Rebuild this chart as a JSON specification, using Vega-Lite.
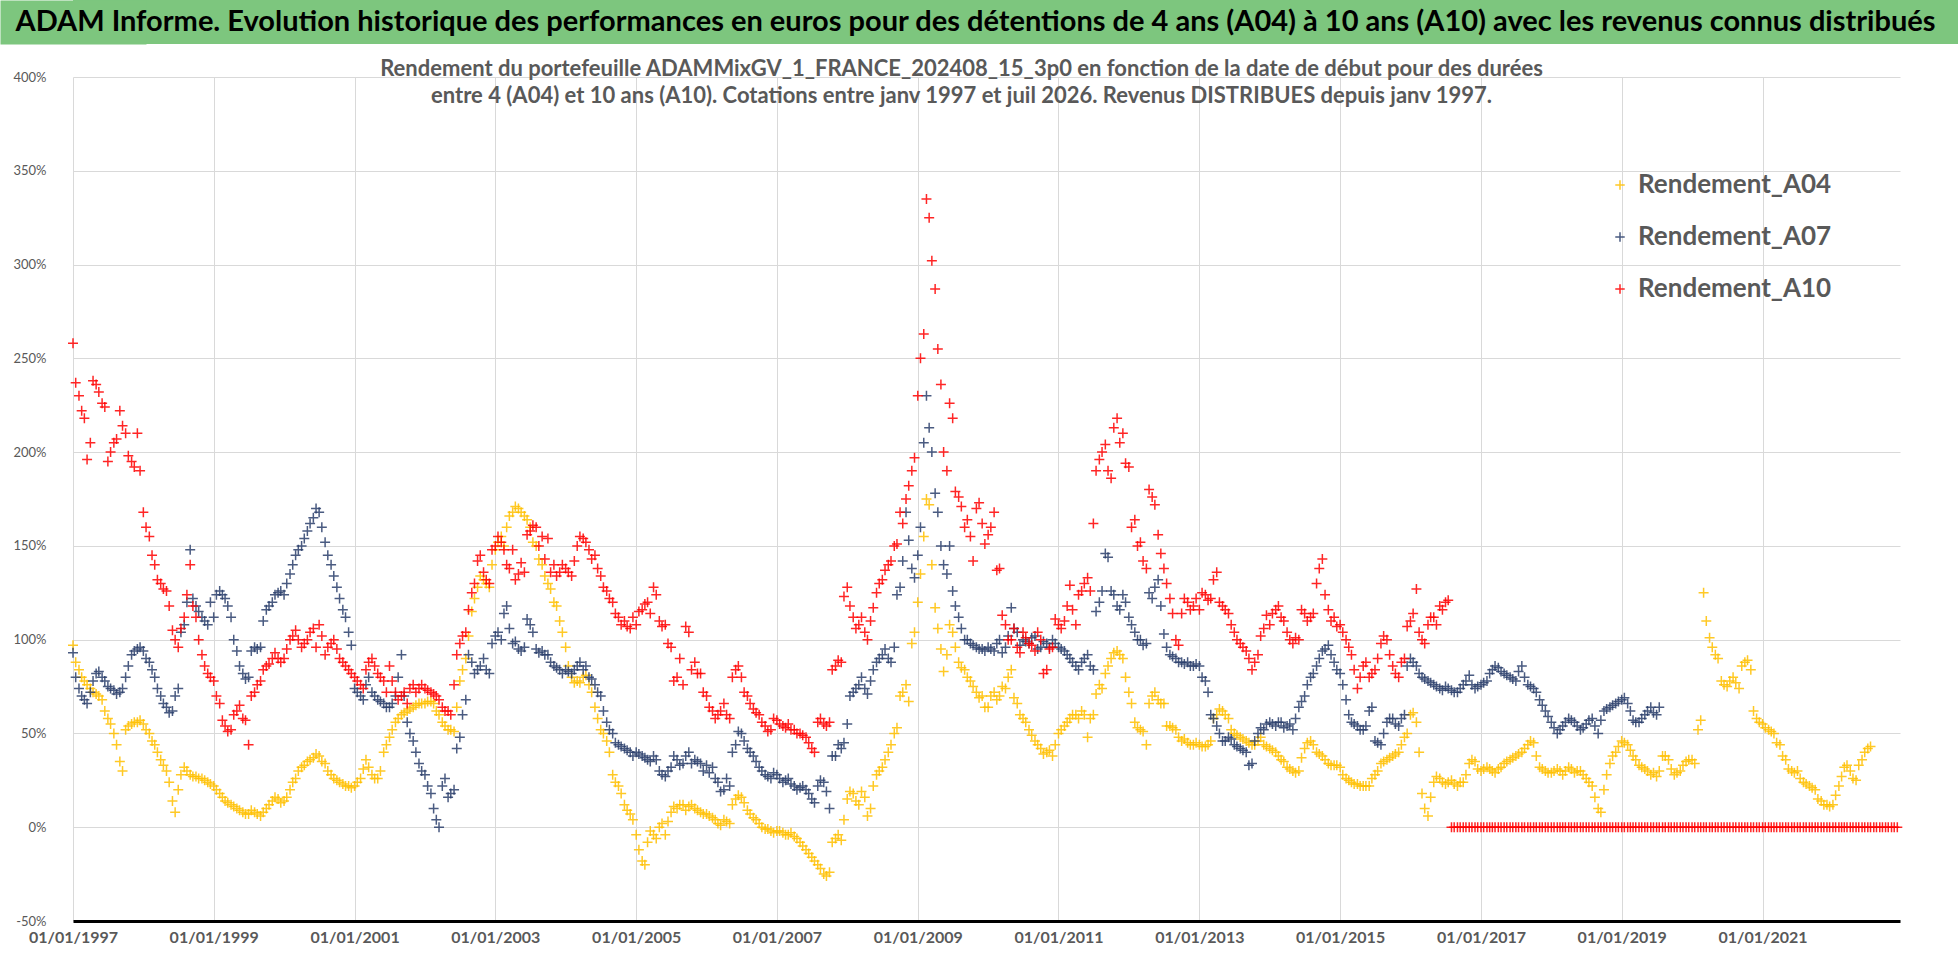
{
  "$schema": "https://vega.github.io/schema/vega-lite/v6.json",
  "padding": 0,
  "background": "white",
  "spacing": 14,
  "config": {"font": "Lato", "view": {"stroke": null}},
  "vconcat": [
    {
      "width": 1885,
      "height": 44,
      "view": {"fill": "#7DC67E", "stroke": null},
      "data": {"values": [{"t": "ADAM Informe. Evolution historique des performances en euros pour des détentions de 4 ans (A04) à 10 ans (A10) avec les revenus connus distribués", "p": 0.5}]},
      "mark": {"type": "text", "font": "Lato", "fontSize": 29, "fontWeight": "bold", "color": "#000000", "dx": -40},
      "encoding": {
        "text": {"field": "t"},
        "y": {
          "field": "p", "type": "quantitative", "scale": {"domain": [0, 1]},
          "axis": {"title": null, "labels": false, "ticks": false, "grid": false, "domain": true, "domainColor": "#7DC67E", "domainWidth": 146, "domainCap": "butt", "minExtent": 73, "maxExtent": 73, "zindex": 0}
        }
      }
    },
    {
      "width": 1827,
      "height": 844,
      "title": {
        "text": ["Rendement du portefeuille ADAMMixGV_1_FRANCE_202408_15_3p0  en fonction de la date de début pour des durées", "entre 4 (A04) et 10 ans (A10). Cotations entre janv 1997 et juil 2026. Revenus DISTRIBUES depuis janv 1997."],
        "font": "Lato", "fontSize": 22, "fontWeight": "bold", "color": "#595959",
        "lineHeight": 27, "offset": -37, "anchor": "middle", "dx": -25
      },
      "data": {"values": [
        {"d":"1997-01","A04":97,"A07":93,"A10":258},
        {"d":"1997-01-15","A04":88,"A07":80,"A10":237},
        {"d":"1997-02","A04":84,"A07":74,"A10":230},
        {"d":"1997-02-15","A04":80,"A07":70,"A10":222},
        {"d":"1997-03","A04":78,"A07":68,"A10":218},
        {"d":"1997-03-15","A04":76,"A07":66,"A10":196},
        {"d":"1997-04","A04":74,"A07":72,"A10":205},
        {"d":"1997-04-15","A04":72,"A07":78,"A10":238},
        {"d":"1997-05","A04":71,"A07":82,"A10":236},
        {"d":"1997-05-15","A04":70,"A07":83,"A10":232},
        {"d":"1997-06","A04":68,"A07":80,"A10":226},
        {"d":"1997-06-15","A04":62,"A07":78,"A10":224},
        {"d":"1997-07","A04":58,"A07":75,"A10":195},
        {"d":"1997-07-15","A04":55,"A07":74,"A10":200},
        {"d":"1997-08","A04":50,"A07":73,"A10":205},
        {"d":"1997-08-15","A04":44,"A07":71,"A10":207},
        {"d":"1997-09","A04":35,"A07":72,"A10":222},
        {"d":"1997-09-15","A04":30,"A07":74,"A10":214},
        {"d":"1997-10","A04":52,"A07":80,"A10":210},
        {"d":"1997-10-15","A04":54,"A07":86,"A10":198},
        {"d":"1997-11","A04":55,"A07":92,"A10":195},
        {"d":"1997-11-15","A04":56,"A07":94,"A10":192},
        {"d":"1997-12","A04":56,"A07":95,"A10":210},
        {"d":"1997-12-15","A04":57,"A07":96,"A10":190},
        {"d":"1998-01","A04":55,"A07":94,"A10":168},
        {"d":"1998-01-15","A04":52,"A07":90,"A10":160},
        {"d":"1998-02","A04":50,"A07":88,"A10":155},
        {"d":"1998-02-15","A04":46,"A07":84,"A10":145},
        {"d":"1998-03","A04":44,"A07":80,"A10":140},
        {"d":"1998-03-15","A04":40,"A07":74,"A10":132},
        {"d":"1998-04","A04":36,"A07":70,"A10":130},
        {"d":"1998-04-15","A04":33,"A07":66,"A10":127},
        {"d":"1998-05","A04":30,"A07":64,"A10":126},
        {"d":"1998-05-15","A04":24,"A07":61,"A10":118},
        {"d":"1998-06","A04":14,"A07":62,"A10":105},
        {"d":"1998-06-15","A04":8,"A07":70,"A10":100},
        {"d":"1998-07","A04":20,"A07":74,"A10":96},
        {"d":"1998-07-15","A04":28,"A07":104,"A10":106},
        {"d":"1998-08","A04":32,"A07":108,"A10":112},
        {"d":"1998-08-15","A04":30,"A07":120,"A10":124},
        {"d":"1998-09","A04":28,"A07":148,"A10":140},
        {"d":"1998-09-15","A04":27,"A07":122,"A10":118},
        {"d":"1998-10","A04":27,"A07":118,"A10":112},
        {"d":"1998-10-15","A04":26,"A07":115,"A10":100},
        {"d":"1998-11","A04":26,"A07":112,"A10":92},
        {"d":"1998-11-15","A04":25,"A07":110,"A10":86},
        {"d":"1998-12","A04":24,"A07":108,"A10":82},
        {"d":"1998-12-15","A04":23,"A07":120,"A10":80},
        {"d":"1999-01","A04":22,"A07":112,"A10":78},
        {"d":"1999-01-15","A04":20,"A07":124,"A10":70},
        {"d":"1999-02","A04":18,"A07":126,"A10":66},
        {"d":"1999-02-15","A04":16,"A07":124,"A10":57},
        {"d":"1999-03","A04":14,"A07":122,"A10":54},
        {"d":"1999-03-15","A04":13,"A07":118,"A10":51},
        {"d":"1999-04","A04":12,"A07":112,"A10":52},
        {"d":"1999-04-15","A04":11,"A07":100,"A10":60},
        {"d":"1999-05","A04":10,"A07":94,"A10":62},
        {"d":"1999-05-15","A04":9,"A07":86,"A10":65},
        {"d":"1999-06","A04":8,"A07":82,"A10":58},
        {"d":"1999-06-15","A04":7,"A07":79,"A10":57},
        {"d":"1999-07","A04":7,"A07":80,"A10":44},
        {"d":"1999-07-15","A04":9,"A07":94,"A10":70},
        {"d":"1999-08","A04":8,"A07":96,"A10":72},
        {"d":"1999-08-15","A04":7,"A07":95,"A10":76},
        {"d":"1999-09","A04":6,"A07":96,"A10":78},
        {"d":"1999-09-15","A04":8,"A07":110,"A10":84},
        {"d":"1999-10","A04":10,"A07":116,"A10":86},
        {"d":"1999-10-15","A04":12,"A07":118,"A10":87},
        {"d":"1999-11","A04":14,"A07":120,"A10":90},
        {"d":"1999-11-15","A04":16,"A07":124,"A10":93},
        {"d":"1999-12","A04":15,"A07":125,"A10":90},
        {"d":"1999-12-15","A04":13,"A07":126,"A10":88},
        {"d":"2000-01","A04":14,"A07":124,"A10":90},
        {"d":"2000-01-15","A04":16,"A07":130,"A10":95},
        {"d":"2000-02","A04":20,"A07":135,"A10":100},
        {"d":"2000-02-15","A04":24,"A07":140,"A10":102},
        {"d":"2000-03","A04":26,"A07":145,"A10":105},
        {"d":"2000-03-15","A04":30,"A07":148,"A10":100},
        {"d":"2000-04","A04":32,"A07":150,"A10":96},
        {"d":"2000-04-15","A04":33,"A07":154,"A10":98},
        {"d":"2000-05","A04":35,"A07":158,"A10":100},
        {"d":"2000-05-15","A04":36,"A07":162,"A10":104},
        {"d":"2000-06","A04":37,"A07":165,"A10":106},
        {"d":"2000-06-15","A04":39,"A07":170,"A10":96},
        {"d":"2000-07","A04":38,"A07":168,"A10":108},
        {"d":"2000-07-15","A04":35,"A07":160,"A10":102},
        {"d":"2000-08","A04":34,"A07":152,"A10":92},
        {"d":"2000-08-15","A04":30,"A07":145,"A10":96},
        {"d":"2000-09","A04":28,"A07":140,"A10":98},
        {"d":"2000-09-15","A04":26,"A07":134,"A10":100},
        {"d":"2000-10","A04":25,"A07":128,"A10":95},
        {"d":"2000-10-15","A04":24,"A07":122,"A10":90},
        {"d":"2000-11","A04":23,"A07":116,"A10":88},
        {"d":"2000-11-15","A04":22,"A07":112,"A10":86},
        {"d":"2000-12","A04":22,"A07":104,"A10":84},
        {"d":"2000-12-15","A04":21,"A07":97,"A10":82},
        {"d":"2001-01","A04":22,"A07":74,"A10":80},
        {"d":"2001-01-15","A04":24,"A07":72,"A10":78},
        {"d":"2001-02","A04":26,"A07":70,"A10":76},
        {"d":"2001-02-15","A04":31,"A07":68,"A10":74},
        {"d":"2001-03","A04":36,"A07":76,"A10":84},
        {"d":"2001-03-15","A04":32,"A07":80,"A10":88},
        {"d":"2001-04","A04":28,"A07":72,"A10":90},
        {"d":"2001-04-15","A04":26,"A07":70,"A10":86},
        {"d":"2001-05","A04":26,"A07":68,"A10":82},
        {"d":"2001-05-15","A04":30,"A07":67,"A10":80},
        {"d":"2001-06","A04":40,"A07":66,"A10":78},
        {"d":"2001-06-15","A04":44,"A07":64,"A10":72},
        {"d":"2001-07","A04":48,"A07":64,"A10":86},
        {"d":"2001-07-15","A04":52,"A07":66,"A10":78},
        {"d":"2001-08","A04":56,"A07":70,"A10":72},
        {"d":"2001-08-15","A04":58,"A07":80,"A10":68},
        {"d":"2001-09","A04":60,"A07":92,"A10":70},
        {"d":"2001-09-15","A04":61,"A07":70,"A10":72},
        {"d":"2001-10","A04":62,"A07":56,"A10":66},
        {"d":"2001-10-15","A04":63,"A07":50,"A10":74},
        {"d":"2001-11","A04":64,"A07":46,"A10":76},
        {"d":"2001-11-15","A04":65,"A07":40,"A10":72},
        {"d":"2001-12","A04":66,"A07":34,"A10":74},
        {"d":"2001-12-15","A04":66,"A07":30,"A10":76},
        {"d":"2002-01","A04":66,"A07":28,"A10":74},
        {"d":"2002-01-15","A04":67,"A07":22,"A10":73},
        {"d":"2002-02","A04":67,"A07":18,"A10":72},
        {"d":"2002-02-15","A04":66,"A07":10,"A10":71},
        {"d":"2002-03","A04":62,"A07":4,"A10":70},
        {"d":"2002-03-15","A04":60,"A07":0,"A10":68},
        {"d":"2002-04","A04":56,"A07":22,"A10":64},
        {"d":"2002-04-15","A04":54,"A07":26,"A10":62},
        {"d":"2002-05","A04":52,"A07":16,"A10":62},
        {"d":"2002-05-15","A04":52,"A07":18,"A10":60},
        {"d":"2002-06","A04":51,"A07":20,"A10":76},
        {"d":"2002-06-15","A04":64,"A07":42,"A10":92},
        {"d":"2002-07","A04":78,"A07":48,"A10":98},
        {"d":"2002-07-15","A04":84,"A07":60,"A10":102},
        {"d":"2002-08","A04":90,"A07":68,"A10":104},
        {"d":"2002-08-15","A04":102,"A07":92,"A10":116},
        {"d":"2002-09","A04":115,"A07":88,"A10":125},
        {"d":"2002-09-15","A04":122,"A07":82,"A10":130},
        {"d":"2002-10","A04":128,"A07":84,"A10":142},
        {"d":"2002-10-15","A04":134,"A07":86,"A10":145},
        {"d":"2002-11","A04":132,"A07":90,"A10":136},
        {"d":"2002-11-15","A04":130,"A07":84,"A10":132},
        {"d":"2002-12","A04":128,"A07":82,"A10":130},
        {"d":"2002-12-15","A04":140,"A07":98,"A10":148},
        {"d":"2003-01","A04":148,"A07":102,"A10":150},
        {"d":"2003-01-15","A04":152,"A07":104,"A10":155},
        {"d":"2003-02","A04":155,"A07":100,"A10":152},
        {"d":"2003-02-15","A04":150,"A07":114,"A10":148},
        {"d":"2003-03","A04":160,"A07":118,"A10":140},
        {"d":"2003-03-15","A04":166,"A07":106,"A10":138},
        {"d":"2003-04","A04":168,"A07":98,"A10":148},
        {"d":"2003-04-15","A04":171,"A07":99,"A10":132},
        {"d":"2003-05","A04":170,"A07":95,"A10":135},
        {"d":"2003-05-15","A04":168,"A07":94,"A10":141},
        {"d":"2003-06","A04":166,"A07":96,"A10":136},
        {"d":"2003-06-15","A04":164,"A07":111,"A10":156},
        {"d":"2003-07","A04":160,"A07":108,"A10":158},
        {"d":"2003-07-15","A04":152,"A07":104,"A10":161},
        {"d":"2003-08","A04":150,"A07":95,"A10":160},
        {"d":"2003-08-15","A04":143,"A07":93,"A10":150},
        {"d":"2003-09","A04":140,"A07":94,"A10":155},
        {"d":"2003-09-15","A04":134,"A07":92,"A10":143},
        {"d":"2003-10","A04":130,"A07":92,"A10":154},
        {"d":"2003-10-15","A04":127,"A07":88,"A10":136},
        {"d":"2003-11","A04":120,"A07":86,"A10":140},
        {"d":"2003-11-15","A04":118,"A07":85,"A10":134},
        {"d":"2003-12","A04":110,"A07":84,"A10":136},
        {"d":"2003-12-15","A04":104,"A07":82,"A10":140},
        {"d":"2004-01","A04":96,"A07":84,"A10":138},
        {"d":"2004-01-15","A04":86,"A07":83,"A10":136},
        {"d":"2004-02","A04":80,"A07":82,"A10":134},
        {"d":"2004-02-15","A04":77,"A07":84,"A10":142},
        {"d":"2004-03","A04":78,"A07":86,"A10":150},
        {"d":"2004-03-15","A04":77,"A07":88,"A10":155},
        {"d":"2004-04","A04":80,"A07":84,"A10":154},
        {"d":"2004-04-15","A04":81,"A07":86,"A10":152},
        {"d":"2004-05","A04":76,"A07":80,"A10":148},
        {"d":"2004-05-15","A04":72,"A07":79,"A10":143},
        {"d":"2004-06","A04":64,"A07":76,"A10":145},
        {"d":"2004-06-15","A04":58,"A07":72,"A10":138},
        {"d":"2004-07","A04":52,"A07":70,"A10":134},
        {"d":"2004-07-15","A04":50,"A07":62,"A10":128},
        {"d":"2004-08","A04":46,"A07":56,"A10":126},
        {"d":"2004-08-15","A04":40,"A07":52,"A10":122},
        {"d":"2004-09","A04":28,"A07":50,"A10":120},
        {"d":"2004-09-15","A04":24,"A07":45,"A10":114},
        {"d":"2004-10","A04":22,"A07":44,"A10":112},
        {"d":"2004-10-15","A04":18,"A07":43,"A10":108},
        {"d":"2004-11","A04":12,"A07":42,"A10":110},
        {"d":"2004-11-15","A04":9,"A07":41,"A10":107},
        {"d":"2004-12","A04":7,"A07":40,"A10":106},
        {"d":"2004-12-15","A04":4,"A07":38,"A10":112},
        {"d":"2005-01","A04":-4,"A07":40,"A10":108},
        {"d":"2005-01-15","A04":-12,"A07":39,"A10":115},
        {"d":"2005-02","A04":-18,"A07":38,"A10":116},
        {"d":"2005-02-15","A04":-20,"A07":37,"A10":119},
        {"d":"2005-03","A04":-8,"A07":36,"A10":120},
        {"d":"2005-03-15","A04":-2,"A07":35,"A10":114},
        {"d":"2005-04","A04":-4,"A07":38,"A10":128},
        {"d":"2005-04-15","A04":-6,"A07":36,"A10":124},
        {"d":"2005-05","A04":0,"A07":30,"A10":110},
        {"d":"2005-05-15","A04":2,"A07":28,"A10":107},
        {"d":"2005-06","A04":-4,"A07":27,"A10":108},
        {"d":"2005-06-15","A04":3,"A07":30,"A10":98},
        {"d":"2005-07","A04":8,"A07":32,"A10":96},
        {"d":"2005-07-15","A04":11,"A07":38,"A10":78},
        {"d":"2005-08","A04":10,"A07":36,"A10":80},
        {"d":"2005-08-15","A04":12,"A07":33,"A10":90},
        {"d":"2005-09","A04":12,"A07":34,"A10":76},
        {"d":"2005-09-15","A04":9,"A07":38,"A10":107},
        {"d":"2005-10","A04":11,"A07":40,"A10":104},
        {"d":"2005-10-15","A04":12,"A07":34,"A10":84},
        {"d":"2005-11","A04":10,"A07":36,"A10":88},
        {"d":"2005-11-15","A04":9,"A07":35,"A10":82},
        {"d":"2005-12","A04":8,"A07":34,"A10":82},
        {"d":"2005-12-15","A04":7,"A07":30,"A10":72},
        {"d":"2006-01","A04":7,"A07":33,"A10":70},
        {"d":"2006-01-15","A04":6,"A07":29,"A10":64},
        {"d":"2006-02","A04":5,"A07":32,"A10":62},
        {"d":"2006-02-15","A04":4,"A07":26,"A10":58},
        {"d":"2006-03","A04":2,"A07":24,"A10":60},
        {"d":"2006-03-15","A04":1,"A07":19,"A10":62},
        {"d":"2006-04","A04":4,"A07":20,"A10":66},
        {"d":"2006-04-15","A04":3,"A07":26,"A10":60},
        {"d":"2006-05","A04":2,"A07":22,"A10":58},
        {"d":"2006-05-15","A04":12,"A07":40,"A10":80},
        {"d":"2006-06","A04":15,"A07":44,"A10":84},
        {"d":"2006-06-15","A04":17,"A07":51,"A10":86},
        {"d":"2006-07","A04":16,"A07":50,"A10":80},
        {"d":"2006-07-15","A04":13,"A07":46,"A10":72},
        {"d":"2006-08","A04":9,"A07":42,"A10":70},
        {"d":"2006-08-15","A04":7,"A07":40,"A10":66},
        {"d":"2006-09","A04":5,"A07":38,"A10":63},
        {"d":"2006-09-15","A04":4,"A07":35,"A10":61},
        {"d":"2006-10","A04":2,"A07":32,"A10":60},
        {"d":"2006-10-15","A04":0,"A07":30,"A10":56},
        {"d":"2006-11","A04":-1,"A07":28,"A10":54},
        {"d":"2006-11-15","A04":-1,"A07":27,"A10":51},
        {"d":"2006-12","A04":-2,"A07":26,"A10":52},
        {"d":"2006-12-15","A04":-3,"A07":29,"A10":58},
        {"d":"2007-01","A04":-2,"A07":28,"A10":57},
        {"d":"2007-01-15","A04":-2,"A07":26,"A10":55},
        {"d":"2007-02","A04":-3,"A07":24,"A10":54},
        {"d":"2007-02-15","A04":-4,"A07":25,"A10":53},
        {"d":"2007-03","A04":-4,"A07":26,"A10":55},
        {"d":"2007-03-15","A04":-3,"A07":23,"A10":52},
        {"d":"2007-04","A04":-5,"A07":22,"A10":52},
        {"d":"2007-04-15","A04":-6,"A07":20,"A10":50},
        {"d":"2007-05","A04":-8,"A07":21,"A10":50},
        {"d":"2007-05-15","A04":-10,"A07":22,"A10":49},
        {"d":"2007-06","A04":-12,"A07":20,"A10":48},
        {"d":"2007-06-15","A04":-14,"A07":18,"A10":45},
        {"d":"2007-07","A04":-16,"A07":15,"A10":42},
        {"d":"2007-07-15","A04":-18,"A07":13,"A10":40},
        {"d":"2007-08","A04":-20,"A07":22,"A10":56},
        {"d":"2007-08-15","A04":-22,"A07":25,"A10":58},
        {"d":"2007-09","A04":-25,"A07":24,"A10":55},
        {"d":"2007-09-15","A04":-26,"A07":19,"A10":54},
        {"d":"2007-10","A04":-24,"A07":10,"A10":56},
        {"d":"2007-10-15","A04":-8,"A07":38,"A10":84},
        {"d":"2007-11","A04":-6,"A07":38,"A10":86},
        {"d":"2007-11-15","A04":-4,"A07":44,"A10":89},
        {"d":"2007-12","A04":-7,"A07":42,"A10":88},
        {"d":"2007-12-15","A04":4,"A07":45,"A10":123},
        {"d":"2008-01","A04":15,"A07":55,"A10":128},
        {"d":"2008-01-15","A04":19,"A07":70,"A10":118},
        {"d":"2008-02","A04":18,"A07":72,"A10":112},
        {"d":"2008-02-15","A04":14,"A07":74,"A10":106},
        {"d":"2008-03","A04":12,"A07":76,"A10":108},
        {"d":"2008-03-15","A04":19,"A07":80,"A10":112},
        {"d":"2008-04","A04":16,"A07":74,"A10":104},
        {"d":"2008-04-15","A04":6,"A07":71,"A10":100},
        {"d":"2008-05","A04":10,"A07":78,"A10":110},
        {"d":"2008-05-15","A04":22,"A07":84,"A10":117},
        {"d":"2008-06","A04":28,"A07":88,"A10":125},
        {"d":"2008-06-15","A04":30,"A07":90,"A10":130},
        {"d":"2008-07","A04":32,"A07":92,"A10":132},
        {"d":"2008-07-15","A04":36,"A07":95,"A10":137},
        {"d":"2008-08","A04":40,"A07":90,"A10":140},
        {"d":"2008-08-15","A04":44,"A07":88,"A10":142},
        {"d":"2008-09","A04":50,"A07":96,"A10":150},
        {"d":"2008-09-15","A04":53,"A07":124,"A10":151},
        {"d":"2008-10","A04":70,"A07":128,"A10":168},
        {"d":"2008-10-15","A04":72,"A07":142,"A10":162},
        {"d":"2008-11","A04":76,"A07":168,"A10":175},
        {"d":"2008-11-15","A04":67,"A07":153,"A10":182},
        {"d":"2008-12","A04":98,"A07":138,"A10":190},
        {"d":"2008-12-15","A04":104,"A07":133,"A10":197},
        {"d":"2009-01-01","A04":120,"A07":145,"A10":230},
        {"d":"2009-01-15","A04":135,"A07":160,"A10":250},
        {"d":"2009-02-01","A04":155,"A07":205,"A10":263},
        {"d":"2009-02-15","A04":175,"A07":230,"A10":335},
        {"d":"2009-03-01","A04":172,"A07":213,"A10":325},
        {"d":"2009-03-15","A04":140,"A07":200,"A10":302},
        {"d":"2009-04-01","A04":117,"A07":178,"A10":287},
        {"d":"2009-04-15","A04":106,"A07":168,"A10":255},
        {"d":"2009-05-01","A04":95,"A07":150,"A10":236},
        {"d":"2009-05-15","A04":83,"A07":140,"A10":200},
        {"d":"2009-06-01","A04":92,"A07":135,"A10":190},
        {"d":"2009-06-15","A04":108,"A07":150,"A10":226},
        {"d":"2009-07","A04":104,"A07":126,"A10":218},
        {"d":"2009-07-15","A04":96,"A07":118,"A10":179},
        {"d":"2009-08","A04":88,"A07":112,"A10":176},
        {"d":"2009-08-15","A04":85,"A07":106,"A10":171},
        {"d":"2009-09","A04":84,"A07":100,"A10":160},
        {"d":"2009-09-15","A04":80,"A07":100,"A10":164},
        {"d":"2009-10","A04":78,"A07":98,"A10":155},
        {"d":"2009-10-15","A04":75,"A07":97,"A10":142},
        {"d":"2009-11","A04":72,"A07":96,"A10":170},
        {"d":"2009-11-15","A04":69,"A07":95,"A10":173},
        {"d":"2009-12","A04":70,"A07":95,"A10":162},
        {"d":"2009-12-15","A04":64,"A07":94,"A10":151},
        {"d":"2010-01","A04":64,"A07":96,"A10":156},
        {"d":"2010-01-15","A04":70,"A07":95,"A10":160},
        {"d":"2010-02","A04":72,"A07":94,"A10":168},
        {"d":"2010-02-15","A04":68,"A07":98,"A10":137},
        {"d":"2010-03","A04":70,"A07":100,"A10":138},
        {"d":"2010-03-15","A04":75,"A07":93,"A10":113},
        {"d":"2010-04","A04":74,"A07":96,"A10":108},
        {"d":"2010-04-15","A04":80,"A07":102,"A10":100},
        {"d":"2010-05","A04":84,"A07":117,"A10":100},
        {"d":"2010-05-15","A04":69,"A07":106,"A10":106},
        {"d":"2010-06","A04":66,"A07":104,"A10":96},
        {"d":"2010-06-15","A04":60,"A07":97,"A10":93},
        {"d":"2010-07","A04":58,"A07":100,"A10":104},
        {"d":"2010-07-15","A04":56,"A07":99,"A10":101},
        {"d":"2010-08","A04":52,"A07":98,"A10":98},
        {"d":"2010-08-15","A04":49,"A07":101,"A10":97},
        {"d":"2010-09","A04":46,"A07":102,"A10":94},
        {"d":"2010-09-15","A04":44,"A07":95,"A10":104},
        {"d":"2010-10","A04":42,"A07":96,"A10":100},
        {"d":"2010-10-15","A04":39,"A07":99,"A10":82},
        {"d":"2010-11","A04":40,"A07":98,"A10":84},
        {"d":"2010-11-15","A04":41,"A07":96,"A10":95},
        {"d":"2010-12","A04":38,"A07":100,"A10":96},
        {"d":"2010-12-15","A04":44,"A07":98,"A10":111},
        {"d":"2011-01","A04":50,"A07":96,"A10":108},
        {"d":"2011-01-15","A04":52,"A07":95,"A10":106},
        {"d":"2011-02","A04":54,"A07":94,"A10":110},
        {"d":"2011-02-15","A04":56,"A07":92,"A10":118},
        {"d":"2011-03","A04":58,"A07":90,"A10":129},
        {"d":"2011-03-15","A04":60,"A07":88,"A10":116},
        {"d":"2011-04","A04":60,"A07":86,"A10":108},
        {"d":"2011-04-15","A04":58,"A07":84,"A10":124},
        {"d":"2011-05","A04":62,"A07":88,"A10":126},
        {"d":"2011-05-15","A04":60,"A07":90,"A10":130},
        {"d":"2011-06","A04":48,"A07":92,"A10":133},
        {"d":"2011-06-15","A04":58,"A07":86,"A10":126},
        {"d":"2011-07","A04":60,"A07":84,"A10":162},
        {"d":"2011-07-15","A04":71,"A07":115,"A10":190},
        {"d":"2011-08","A04":76,"A07":120,"A10":196},
        {"d":"2011-08-15","A04":74,"A07":126,"A10":200},
        {"d":"2011-09","A04":82,"A07":146,"A10":204},
        {"d":"2011-09-15","A04":86,"A07":144,"A10":190},
        {"d":"2011-10","A04":90,"A07":126,"A10":186},
        {"d":"2011-10-15","A04":93,"A07":124,"A10":213},
        {"d":"2011-11","A04":94,"A07":118,"A10":218},
        {"d":"2011-11-15","A04":92,"A07":116,"A10":205},
        {"d":"2011-12","A04":90,"A07":124,"A10":210},
        {"d":"2011-12-15","A04":80,"A07":120,"A10":194},
        {"d":"2012-01","A04":72,"A07":112,"A10":192},
        {"d":"2012-01-15","A04":66,"A07":108,"A10":160},
        {"d":"2012-02","A04":56,"A07":104,"A10":164},
        {"d":"2012-02-15","A04":53,"A07":100,"A10":150},
        {"d":"2012-03","A04":52,"A07":100,"A10":152},
        {"d":"2012-03-15","A04":51,"A07":97,"A10":142},
        {"d":"2012-04","A04":44,"A07":98,"A10":138},
        {"d":"2012-04-15","A04":66,"A07":125,"A10":180},
        {"d":"2012-05","A04":70,"A07":122,"A10":176},
        {"d":"2012-05-15","A04":72,"A07":128,"A10":172},
        {"d":"2012-06","A04":68,"A07":132,"A10":156},
        {"d":"2012-06-15","A04":66,"A07":118,"A10":146},
        {"d":"2012-07","A04":66,"A07":103,"A10":138},
        {"d":"2012-07-15","A04":54,"A07":96,"A10":130},
        {"d":"2012-08","A04":54,"A07":92,"A10":122},
        {"d":"2012-08-15","A04":53,"A07":91,"A10":114},
        {"d":"2012-09","A04":52,"A07":90,"A10":100},
        {"d":"2012-09-15","A04":48,"A07":88,"A10":97},
        {"d":"2012-10","A04":46,"A07":88,"A10":114},
        {"d":"2012-10-15","A04":47,"A07":87,"A10":122},
        {"d":"2012-11","A04":45,"A07":88,"A10":120},
        {"d":"2012-11-15","A04":44,"A07":86,"A10":116},
        {"d":"2012-12","A04":44,"A07":86,"A10":118},
        {"d":"2012-12-15","A04":45,"A07":87,"A10":122},
        {"d":"2013-01","A04":44,"A07":86,"A10":116},
        {"d":"2013-01-15","A04":43,"A07":80,"A10":125},
        {"d":"2013-02","A04":43,"A07":78,"A10":124},
        {"d":"2013-02-15","A04":44,"A07":72,"A10":121},
        {"d":"2013-03","A04":46,"A07":60,"A10":122},
        {"d":"2013-03-15","A04":58,"A07":58,"A10":132},
        {"d":"2013-04","A04":60,"A07":54,"A10":136},
        {"d":"2013-04-15","A04":63,"A07":50,"A10":120},
        {"d":"2013-05","A04":62,"A07":46,"A10":118},
        {"d":"2013-05-15","A04":60,"A07":46,"A10":116},
        {"d":"2013-06","A04":58,"A07":48,"A10":114},
        {"d":"2013-06-15","A04":52,"A07":47,"A10":108},
        {"d":"2013-07","A04":50,"A07":44,"A10":104},
        {"d":"2013-07-15","A04":49,"A07":43,"A10":100},
        {"d":"2013-08","A04":48,"A07":42,"A10":98},
        {"d":"2013-08-15","A04":47,"A07":41,"A10":96},
        {"d":"2013-09","A04":46,"A07":40,"A10":94},
        {"d":"2013-09-15","A04":45,"A07":33,"A10":90},
        {"d":"2013-10","A04":44,"A07":34,"A10":84},
        {"d":"2013-10-15","A04":44,"A07":46,"A10":88},
        {"d":"2013-11","A04":46,"A07":50,"A10":92},
        {"d":"2013-11-15","A04":48,"A07":53,"A10":102},
        {"d":"2013-12","A04":44,"A07":52,"A10":106},
        {"d":"2013-12-15","A04":43,"A07":55,"A10":113},
        {"d":"2014-01","A04":42,"A07":56,"A10":108},
        {"d":"2014-01-15","A04":41,"A07":55,"A10":114},
        {"d":"2014-02","A04":40,"A07":54,"A10":116},
        {"d":"2014-02-15","A04":38,"A07":56,"A10":118},
        {"d":"2014-03","A04":36,"A07":56,"A10":112},
        {"d":"2014-03-15","A04":35,"A07":53,"A10":110},
        {"d":"2014-04","A04":32,"A07":54,"A10":104},
        {"d":"2014-04-15","A04":31,"A07":55,"A10":100},
        {"d":"2014-05","A04":30,"A07":52,"A10":98},
        {"d":"2014-05-15","A04":29,"A07":58,"A10":101},
        {"d":"2014-06","A04":30,"A07":64,"A10":100},
        {"d":"2014-06-15","A04":37,"A07":67,"A10":116},
        {"d":"2014-07","A04":42,"A07":70,"A10":114},
        {"d":"2014-07-15","A04":45,"A07":76,"A10":110},
        {"d":"2014-08","A04":46,"A07":80,"A10":112},
        {"d":"2014-08-15","A04":44,"A07":82,"A10":114},
        {"d":"2014-09","A04":40,"A07":86,"A10":130},
        {"d":"2014-09-15","A04":39,"A07":90,"A10":138},
        {"d":"2014-10","A04":38,"A07":94,"A10":143},
        {"d":"2014-10-15","A04":36,"A07":95,"A10":124},
        {"d":"2014-11","A04":34,"A07":97,"A10":116},
        {"d":"2014-11-15","A04":33,"A07":92,"A10":110},
        {"d":"2014-12","A04":33,"A07":88,"A10":112},
        {"d":"2014-12-15","A04":33,"A07":84,"A10":107},
        {"d":"2015-01","A04":32,"A07":82,"A10":108},
        {"d":"2015-01-15","A04":28,"A07":76,"A10":104},
        {"d":"2015-02","A04":26,"A07":68,"A10":100},
        {"d":"2015-02-15","A04":25,"A07":60,"A10":96},
        {"d":"2015-03","A04":24,"A07":56,"A10":92},
        {"d":"2015-03-15","A04":23,"A07":55,"A10":84},
        {"d":"2015-04","A04":23,"A07":54,"A10":74},
        {"d":"2015-04-15","A04":22,"A07":52,"A10":80},
        {"d":"2015-05","A04":22,"A07":52,"A10":86},
        {"d":"2015-05-15","A04":22,"A07":54,"A10":88},
        {"d":"2015-06","A04":22,"A07":62,"A10":80},
        {"d":"2015-06-15","A04":26,"A07":64,"A10":82},
        {"d":"2015-07","A04":28,"A07":46,"A10":84},
        {"d":"2015-07-15","A04":30,"A07":45,"A10":90},
        {"d":"2015-08","A04":34,"A07":44,"A10":98},
        {"d":"2015-08-15","A04":35,"A07":50,"A10":102},
        {"d":"2015-09","A04":36,"A07":56,"A10":100},
        {"d":"2015-09-15","A04":37,"A07":58,"A10":92},
        {"d":"2015-10","A04":38,"A07":58,"A10":86},
        {"d":"2015-10-15","A04":39,"A07":55,"A10":82},
        {"d":"2015-11","A04":40,"A07":54,"A10":80},
        {"d":"2015-11-15","A04":44,"A07":58,"A10":88},
        {"d":"2015-12","A04":48,"A07":60,"A10":90},
        {"d":"2015-12-15","A04":50,"A07":86,"A10":107},
        {"d":"2016-01","A04":60,"A07":90,"A10":110},
        {"d":"2016-01-15","A04":61,"A07":88,"A10":114},
        {"d":"2016-02","A04":56,"A07":86,"A10":127},
        {"d":"2016-02-15","A04":40,"A07":82,"A10":104},
        {"d":"2016-03","A04":18,"A07":80,"A10":100},
        {"d":"2016-03-15","A04":10,"A07":79,"A10":98},
        {"d":"2016-04","A04":6,"A07":78,"A10":108},
        {"d":"2016-04-15","A04":16,"A07":77,"A10":112},
        {"d":"2016-05","A04":24,"A07":76,"A10":112},
        {"d":"2016-05-15","A04":27,"A07":75,"A10":108},
        {"d":"2016-06","A04":26,"A07":74,"A10":118},
        {"d":"2016-06-15","A04":24,"A07":73,"A10":116},
        {"d":"2016-07","A04":23,"A07":75,"A10":120},
        {"d":"2016-07-15","A04":24,"A07":74,"A10":121},
        {"d":"2016-08","A04":25,"A07":73,"A10":0},
        {"d":"2016-08-15","A04":23,"A07":72,"A10":0},
        {"d":"2016-09","A04":22,"A07":72,"A10":0},
        {"d":"2016-09-15","A04":24,"A07":74,"A10":0},
        {"d":"2016-10","A04":24,"A07":76,"A10":0},
        {"d":"2016-10-15","A04":28,"A07":78,"A10":0},
        {"d":"2016-11","A04":34,"A07":81,"A10":0},
        {"d":"2016-11-15","A04":36,"A07":76,"A10":0},
        {"d":"2016-12","A04":35,"A07":74,"A10":0},
        {"d":"2016-12-15","A04":31,"A07":75,"A10":0},
        {"d":"2017-01","A04":30,"A07":76,"A10":0},
        {"d":"2017-01-15","A04":31,"A07":77,"A10":0},
        {"d":"2017-02","A04":32,"A07":78,"A10":0},
        {"d":"2017-02-15","A04":31,"A07":82,"A10":0},
        {"d":"2017-03","A04":30,"A07":84,"A10":0},
        {"d":"2017-03-15","A04":29,"A07":86,"A10":0},
        {"d":"2017-04","A04":31,"A07":85,"A10":0},
        {"d":"2017-04-15","A04":32,"A07":83,"A10":0},
        {"d":"2017-05","A04":34,"A07":82,"A10":0},
        {"d":"2017-05-15","A04":35,"A07":81,"A10":0},
        {"d":"2017-06","A04":36,"A07":80,"A10":0},
        {"d":"2017-06-15","A04":37,"A07":79,"A10":0},
        {"d":"2017-07","A04":38,"A07":78,"A10":0},
        {"d":"2017-07-15","A04":39,"A07":83,"A10":0},
        {"d":"2017-08","A04":40,"A07":86,"A10":0},
        {"d":"2017-08-15","A04":42,"A07":80,"A10":0},
        {"d":"2017-09","A04":44,"A07":76,"A10":0},
        {"d":"2017-09-15","A04":46,"A07":75,"A10":0},
        {"d":"2017-10","A04":45,"A07":74,"A10":0},
        {"d":"2017-10-15","A04":38,"A07":72,"A10":0},
        {"d":"2017-11","A04":32,"A07":68,"A10":0},
        {"d":"2017-11-15","A04":31,"A07":65,"A10":0},
        {"d":"2017-12","A04":30,"A07":62,"A10":0},
        {"d":"2017-12-15","A04":29,"A07":59,"A10":0},
        {"d":"2018-01","A04":29,"A07":56,"A10":0},
        {"d":"2018-01-15","A04":30,"A07":53,"A10":0},
        {"d":"2018-02","A04":31,"A07":50,"A10":0},
        {"d":"2018-02-15","A04":30,"A07":52,"A10":0},
        {"d":"2018-03","A04":28,"A07":54,"A10":0},
        {"d":"2018-03-15","A04":30,"A07":56,"A10":0},
        {"d":"2018-04","A04":32,"A07":58,"A10":0},
        {"d":"2018-04-15","A04":31,"A07":57,"A10":0},
        {"d":"2018-05","A04":29,"A07":56,"A10":0},
        {"d":"2018-05-15","A04":30,"A07":54,"A10":0},
        {"d":"2018-06","A04":30,"A07":52,"A10":0},
        {"d":"2018-06-15","A04":28,"A07":53,"A10":0},
        {"d":"2018-07","A04":26,"A07":55,"A10":0},
        {"d":"2018-07-15","A04":24,"A07":57,"A10":0},
        {"d":"2018-08","A04":22,"A07":58,"A10":0},
        {"d":"2018-08-15","A04":16,"A07":54,"A10":0},
        {"d":"2018-09","A04":10,"A07":50,"A10":0},
        {"d":"2018-09-15","A04":8,"A07":57,"A10":0},
        {"d":"2018-10","A04":20,"A07":62,"A10":0},
        {"d":"2018-10-15","A04":28,"A07":63,"A10":0},
        {"d":"2018-11","A04":34,"A07":64,"A10":0},
        {"d":"2018-11-15","A04":38,"A07":65,"A10":0},
        {"d":"2018-12","A04":40,"A07":66,"A10":0},
        {"d":"2018-12-15","A04":43,"A07":67,"A10":0},
        {"d":"2019-01","A04":46,"A07":68,"A10":0},
        {"d":"2019-01-15","A04":45,"A07":69,"A10":0},
        {"d":"2019-02","A04":44,"A07":66,"A10":0},
        {"d":"2019-02-15","A04":41,"A07":62,"A10":0},
        {"d":"2019-03","A04":38,"A07":57,"A10":0},
        {"d":"2019-03-15","A04":36,"A07":56,"A10":0},
        {"d":"2019-04","A04":33,"A07":56,"A10":0},
        {"d":"2019-04-15","A04":32,"A07":58,"A10":0},
        {"d":"2019-05","A04":31,"A07":60,"A10":0},
        {"d":"2019-05-15","A04":30,"A07":62,"A10":0},
        {"d":"2019-06","A04":28,"A07":64,"A10":0},
        {"d":"2019-06-15","A04":29,"A07":61,"A10":0},
        {"d":"2019-07","A04":27,"A07":60,"A10":0},
        {"d":"2019-07-15","A04":30,"A07":64,"A10":0},
        {"d":"2019-08","A04":38,"A10":0},
        {"d":"2019-08-15","A04":38,"A10":0},
        {"d":"2019-09","A04":36,"A10":0},
        {"d":"2019-09-15","A04":31,"A10":0},
        {"d":"2019-10","A04":28,"A10":0},
        {"d":"2019-10-15","A04":29,"A10":0},
        {"d":"2019-11","A04":30,"A10":0},
        {"d":"2019-11-15","A04":33,"A10":0},
        {"d":"2019-12","A04":35,"A10":0},
        {"d":"2019-12-15","A04":36,"A10":0},
        {"d":"2020-01","A04":36,"A10":0},
        {"d":"2020-01-15","A04":34,"A10":0},
        {"d":"2020-02","A04":52,"A10":0},
        {"d":"2020-02-15","A04":57,"A10":0},
        {"d":"2020-03","A04":125,"A10":0},
        {"d":"2020-03-15","A04":110,"A10":0},
        {"d":"2020-04","A04":101,"A10":0},
        {"d":"2020-04-15","A04":96,"A10":0},
        {"d":"2020-05","A04":92,"A10":0},
        {"d":"2020-05-15","A04":90,"A10":0},
        {"d":"2020-06","A04":78,"A10":0},
        {"d":"2020-06-15","A04":76,"A10":0},
        {"d":"2020-07","A04":75,"A10":0},
        {"d":"2020-07-15","A04":78,"A10":0},
        {"d":"2020-08","A04":80,"A10":0},
        {"d":"2020-08-15","A04":77,"A10":0},
        {"d":"2020-09","A04":74,"A10":0},
        {"d":"2020-09-15","A04":86,"A10":0},
        {"d":"2020-10","A04":88,"A10":0},
        {"d":"2020-10-15","A04":89,"A10":0},
        {"d":"2020-11","A04":84,"A10":0},
        {"d":"2020-11-15","A04":62,"A10":0},
        {"d":"2020-12","A04":58,"A10":0},
        {"d":"2020-12-15","A04":56,"A10":0},
        {"d":"2021-01","A04":55,"A10":0},
        {"d":"2021-01-15","A04":53,"A10":0},
        {"d":"2021-02","A04":52,"A10":0},
        {"d":"2021-02-15","A04":51,"A10":0},
        {"d":"2021-03","A04":50,"A10":0},
        {"d":"2021-03-15","A04":45,"A10":0},
        {"d":"2021-04","A04":44,"A10":0},
        {"d":"2021-04-15","A04":38,"A10":0},
        {"d":"2021-05","A04":36,"A10":0},
        {"d":"2021-05-15","A04":31,"A10":0},
        {"d":"2021-06","A04":30,"A10":0},
        {"d":"2021-06-15","A04":29,"A10":0},
        {"d":"2021-07","A04":30,"A10":0},
        {"d":"2021-07-15","A04":26,"A10":0},
        {"d":"2021-08","A04":24,"A10":0},
        {"d":"2021-08-15","A04":23,"A10":0},
        {"d":"2021-09","A04":22,"A10":0},
        {"d":"2021-09-15","A04":21,"A10":0},
        {"d":"2021-10","A04":20,"A10":0},
        {"d":"2021-10-15","A04":15,"A10":0},
        {"d":"2021-11","A04":14,"A10":0},
        {"d":"2021-11-15","A04":12,"A10":0},
        {"d":"2021-12","A04":12,"A10":0},
        {"d":"2021-12-15","A04":11,"A10":0},
        {"d":"2022-01","A04":12,"A10":0},
        {"d":"2022-01-15","A04":17,"A10":0},
        {"d":"2022-02","A04":22,"A10":0},
        {"d":"2022-02-15","A04":27,"A10":0},
        {"d":"2022-03","A04":32,"A10":0},
        {"d":"2022-03-15","A04":33,"A10":0},
        {"d":"2022-04","A04":30,"A10":0},
        {"d":"2022-04-15","A04":26,"A10":0},
        {"d":"2022-05","A04":25,"A10":0},
        {"d":"2022-05-15","A04":33,"A10":0},
        {"d":"2022-06","A04":36,"A10":0},
        {"d":"2022-06-15","A04":40,"A10":0},
        {"d":"2022-07","A04":42,"A10":0},
        {"d":"2022-07-15","A04":43,"A10":0},
        {"d":"2022-08","A10":0},
        {"d":"2022-08-15","A10":0},
        {"d":"2022-09","A10":0},
        {"d":"2022-09-15","A10":0},
        {"d":"2022-10","A10":0},
        {"d":"2022-10-15","A10":0},
        {"d":"2022-11","A10":0},
        {"d":"2022-11-15","A10":0},
        {"d":"2022-12","A10":0}
      ]},
      "transform": [
        {"fold": ["A04", "A07", "A10"], "as": ["s", "v"]},
        {"filter": "isValid(datum.v)"}
      ],
      "mark": {
        "type": "point",
        "shape": "M-1,0L1,0M0,-1L0,1",
        "filled": false,
        "size": 100,
        "strokeWidth": 1.5,
        "opacity": 0.85
      },
      "encoding": {
        "x": {
          "field": "d",
          "type": "temporal",
          "title": null,
          "scale": {"type": "utc", "domain": [{"year": 1997, "month": 1, "date": 1, "utc": true}, {"year": 2022, "month": 12, "date": 15, "utc": true}]},
          "axis": {
            "values": [
              {"year": 1997, "month": 1, "date": 1, "utc": true},
              {"year": 1999, "month": 1, "date": 1, "utc": true},
              {"year": 2001, "month": 1, "date": 1, "utc": true},
              {"year": 2003, "month": 1, "date": 1, "utc": true},
              {"year": 2005, "month": 1, "date": 1, "utc": true},
              {"year": 2007, "month": 1, "date": 1, "utc": true},
              {"year": 2009, "month": 1, "date": 1, "utc": true},
              {"year": 2011, "month": 1, "date": 1, "utc": true},
              {"year": 2013, "month": 1, "date": 1, "utc": true},
              {"year": 2015, "month": 1, "date": 1, "utc": true},
              {"year": 2017, "month": 1, "date": 1, "utc": true},
              {"year": 2019, "month": 1, "date": 1, "utc": true},
              {"year": 2021, "month": 1, "date": 1, "utc": true}
            ],
            "labelExpr": "utcFormat(datum.value, '%d/%m/%Y')",
            "labelFlush": false,
            "labelOverlap": false,
            "labelFont": "Lato",
            "labelFontSize": 16,
            "labelFontWeight": "bold",
            "labelColor": "#595959",
            "labelPadding": 8,
            "ticks": false,
            "domainColor": "#000000",
            "domainWidth": 3,
            "grid": true,
            "gridColor": "#D9D9D9",
            "gridWidth": 1
          }
        },
        "y": {
          "field": "v",
          "type": "quantitative",
          "title": null,
          "scale": {"domain": [-50, 400], "nice": false, "zero": false},
          "axis": {
            "values": [-50, 0, 50, 100, 150, 200, 250, 300, 350, 400],
            "labelExpr": "datum.value + '%'",
            "labelFont": "Lato",
            "labelFontSize": 13,
            "labelColor": "#595959",
            "labelPadding": 27,
            "minExtent": 73,
            "ticks": false,
            "domain": false,
            "grid": true,
            "gridColor": "#D9D9D9",
            "gridWidth": 1
          }
        },
        "color": {
          "field": "s",
          "type": "nominal",
          "scale": {"domain": ["A04", "A07", "A10"], "range": ["#FFC000", "#2B3F6C", "#FF0000"]},
          "legend": {
            "title": null,
            "orient": "none",
            "legendX": 1534,
            "legendY": 172,
            "padding": 0,
            "labelExpr": "'Rendement_' + datum.label",
            "labelLimit": 0,
            "labelFont": "Lato",
            "labelFontSize": 26,
            "labelFontWeight": "bold",
            "labelColor": "#595959",
            "labelOffset": 5,
            "rowPadding": 26,
            "symbolType": "M-1,0L1,0M0,-1L0,1",
            "symbolSize": 90,
            "symbolStrokeWidth": 1.5,
            "symbolFillColor": "transparent"
          }
        },
        "order": {"field": "s"}
      }
    }
  ]
}
